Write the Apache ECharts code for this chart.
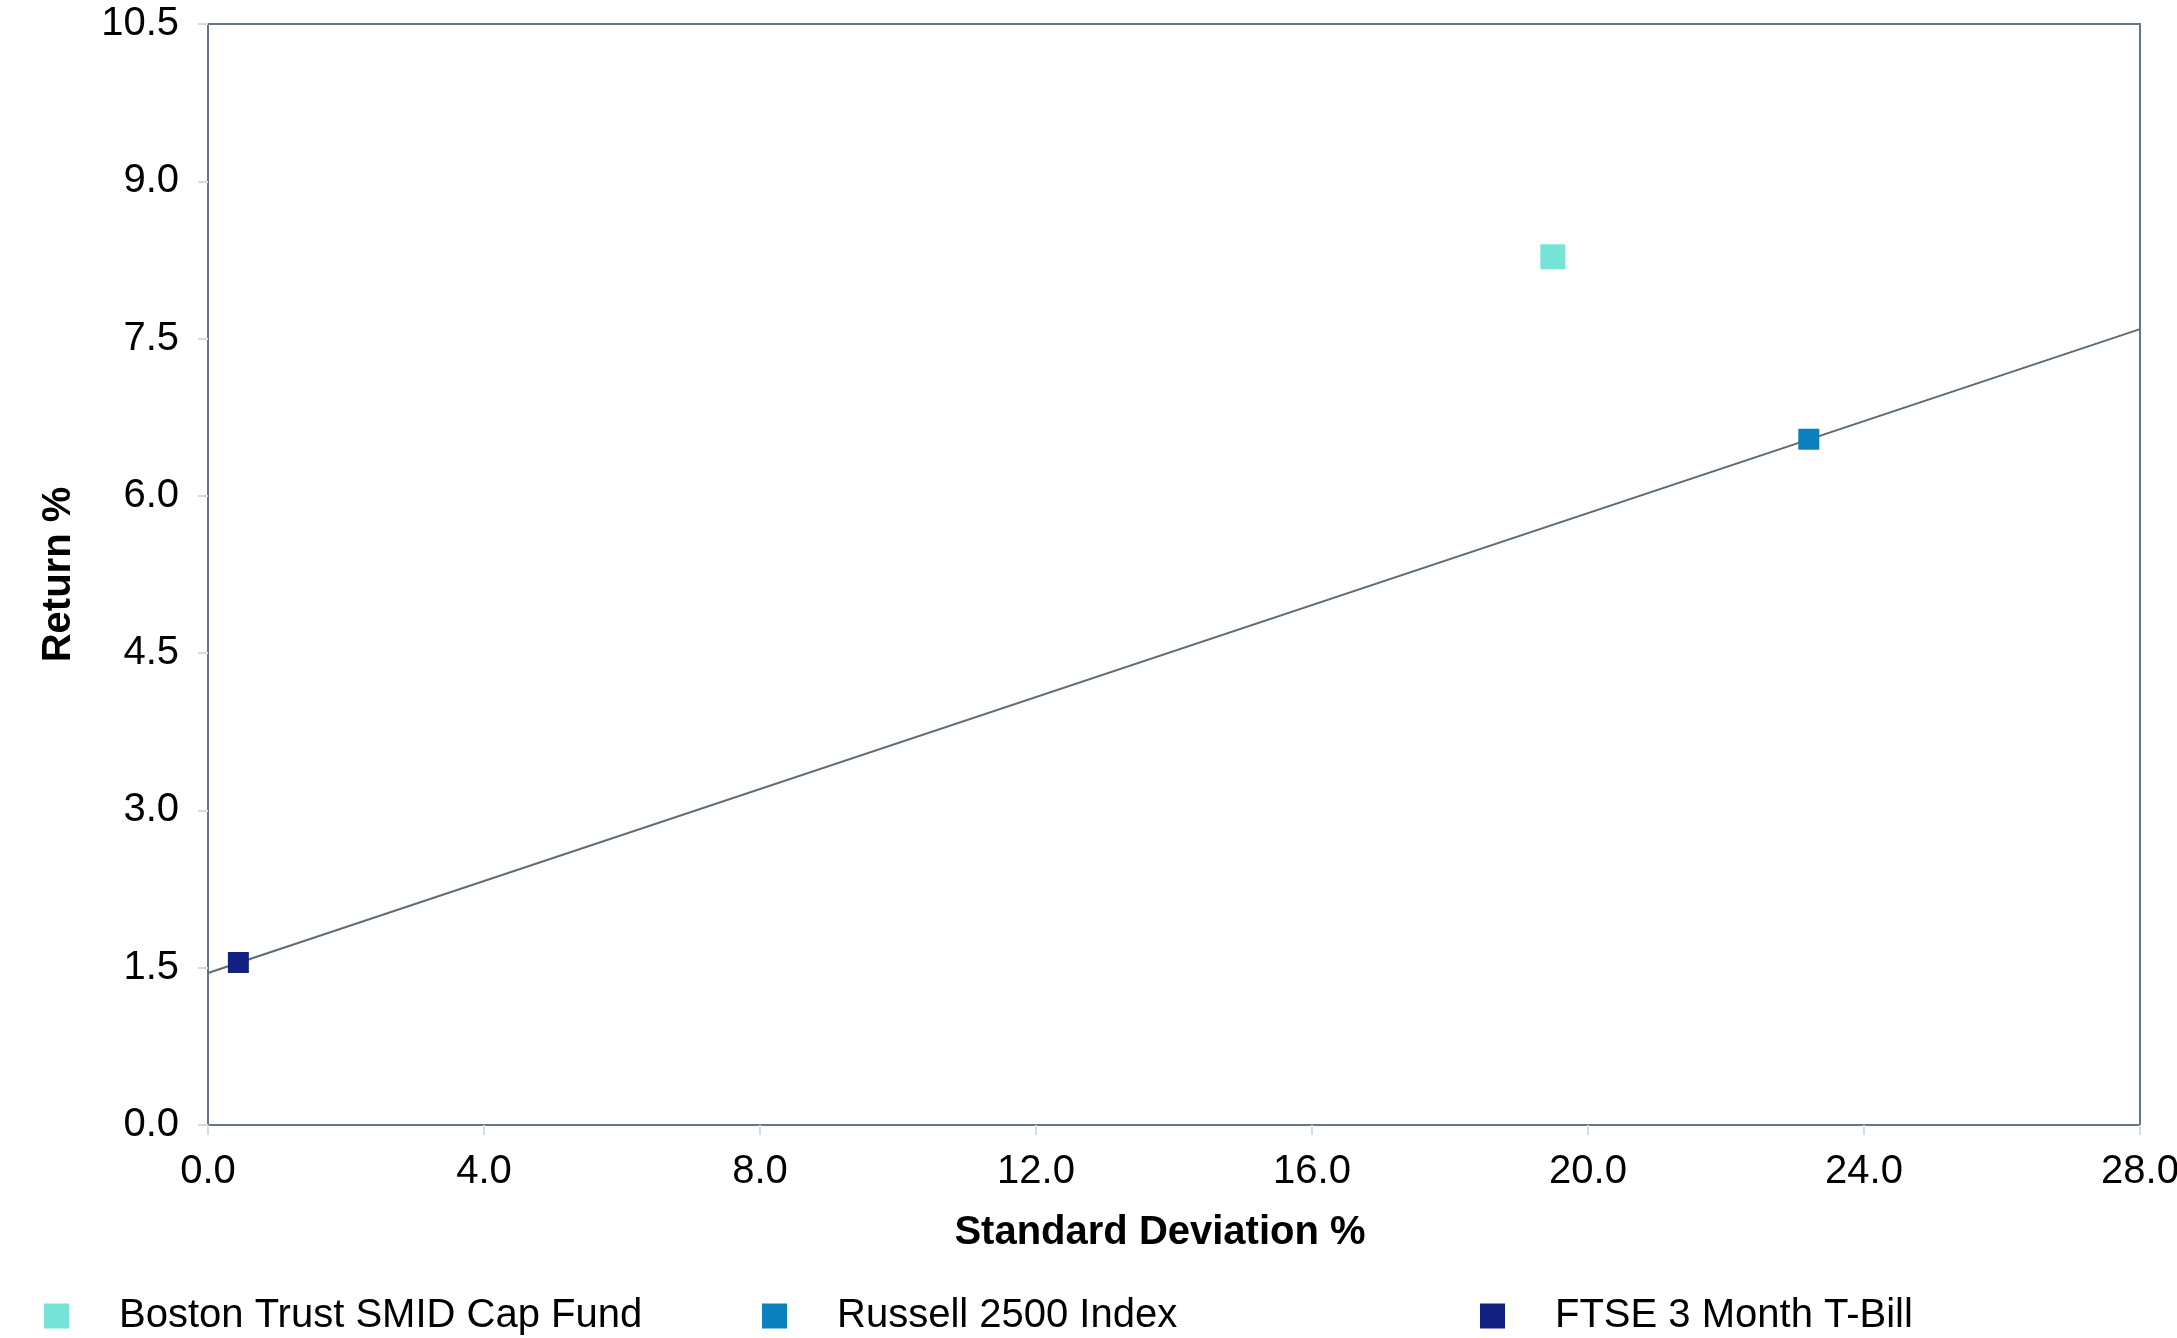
<!DOCTYPE html>
<html>
<head>
<meta charset="utf-8">
<script src="https://cdn.jsdelivr.net/npm/echarts@6/dist/echarts.min.js"></script>
<style>
  html, body { margin: 0; padding: 0; background: #fff; }
  #chart { width: 2177px; height: 1338px; }
</style>
</head>
<body>
<div id="chart"></div>
<script>
// series names and [std dev, return] points
const seriesNames = ['Boston Trust SMID Cap Fund', 'Russell 2500 Index', 'FTSE 3 Month T-Bill'];
const fundPoint = [19.49, 8.28];
const indexPoint = [23.2, 6.54];
const tbillPoint = [0.44, 1.55];
// capital market line endpoints
const cmlLine = [[0, 1.45], [28, 7.59]];
const colors = ['#76e3d9', '#0b80bf', '#12207f'];

const font = 'Liberation Sans, Arial, Helvetica, sans-serif';
const chart = echarts.init(document.getElementById('chart'));

// one legend per item so each sits where the original does
const legendLeft = [44, 762, 1480];
const legends = seriesNames.map((name, i) => ({
  data: [name],
  left: legendLeft[i],
  top: 1296,
  padding: 0,
  icon: 'rect',
  itemWidth: 25,
  itemHeight: 25,
  selectedMode: false,
  textStyle: { fontFamily: font, fontSize: 40, color: '#000', padding: [0, 0, 0, 45] }
}));

const points = [fundPoint, indexPoint, tbillPoint];
const sizes = [25, 21, 21];

chart.setOption({
  animation: false,
  legend: legends,
  grid: {
    left: 208, right: 37, top: 24, bottom: 213,
    outerBoundsMode: 'none',
    show: true, borderColor: '#667686', borderWidth: 2
  },
  xAxis: {
    type: 'value', min: 0, max: 28, interval: 4,
    name: 'Standard Deviation %', nameLocation: 'middle', nameGap: 88,
    nameTextStyle: { fontFamily: font, fontSize: 40, fontWeight: 'bold', color: '#000', padding: [0, 28, 0, 0] },
    axisLine: { show: true, lineStyle: { color: '#667686', width: 2 } },
    axisTick: { show: true, length: 10, lineStyle: { color: '#dadada', width: 2 } },
    axisLabel: { fontFamily: font, fontSize: 40, color: '#000', margin: 27, formatter: v => v.toFixed(1) },
    splitLine: { show: false }
  },
  yAxis: {
    type: 'value', min: 0, max: 10.5, interval: 1.5,
    name: 'Return %', nameLocation: 'middle', nameGap: 129, nameRotate: 90,
    nameTextStyle: { fontFamily: font, fontSize: 40, fontWeight: 'bold', color: '#000' },
    axisLine: { show: true, lineStyle: { color: '#667686', width: 2 } },
    axisTick: { show: true, length: 10, lineStyle: { color: '#dadada', width: 2 } },
    axisLabel: { fontFamily: font, fontSize: 40, color: '#000', margin: 29, formatter: v => v.toFixed(1) },
    splitLine: { show: false }
  },
  series: [
    {
      type: 'line',
      data: cmlLine,
      symbol: 'none',
      lineStyle: { color: '#5b6b78', width: 2 },
      silent: true,
      z: 1
    }
  ].concat(seriesNames.map((name, i) => ({
    name: name,
    type: 'scatter',
    symbol: 'rect',
    symbolSize: sizes[i],
    itemStyle: { color: colors[i], opacity: 1 },
    data: [points[i]],
    z: 3
  })))
});
</script>
</body>
</html>
